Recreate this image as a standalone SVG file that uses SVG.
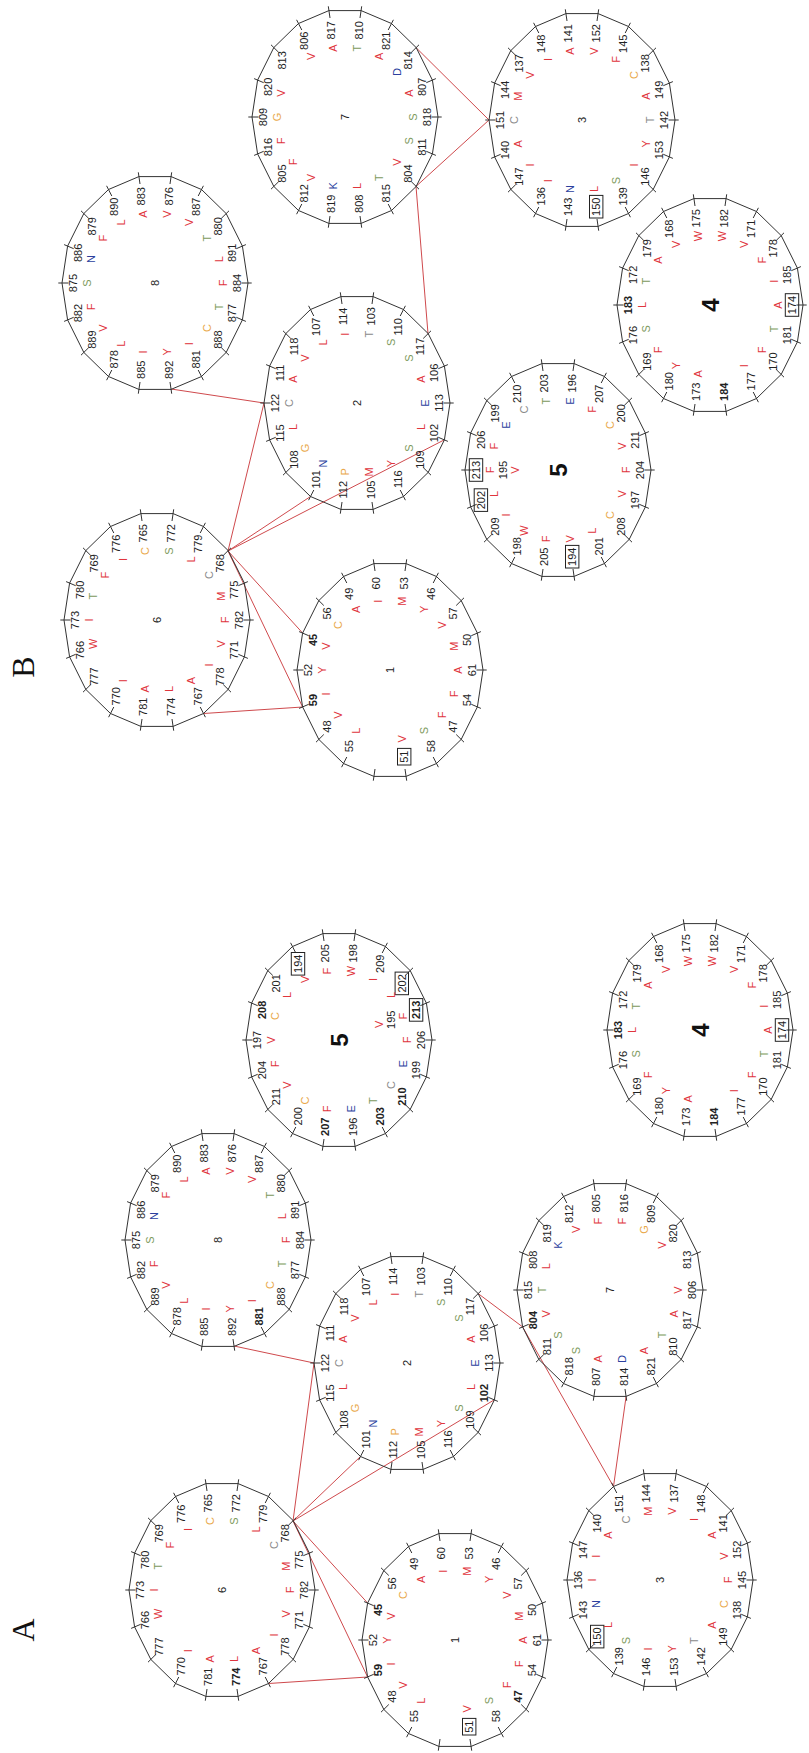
<svg xmlns="http://www.w3.org/2000/svg" width="809" height="1753" viewBox="0 0 809 1753">
<style>
text{font-family:"Liberation Sans",Arial,sans-serif;text-anchor:middle;dominant-baseline:central}
.n{font-size:11px;fill:#222}
.bd{font-weight:bold}
.L{font-size:11px}
.r{fill:#e0353d}.b{fill:#2b3f9e}.g{fill:#7d9a5c}.o{fill:#e9a84a}.y{fill:#8a8a8a}
.c{font-size:11px;fill:#222}
.big{font-size:24px;font-weight:bold;fill:#111}
.w{fill:none;stroke:#333;stroke-width:1}
.t{fill:none;stroke:#333;stroke-width:1}
.cn{stroke:#cf4a4d;stroke-width:1;fill:none}
.bx{fill:none;stroke:#222;stroke-width:1}
.pl{font-family:"Liberation Serif","Times New Roman",serif;font-size:32px;fill:#111}
</style>
<defs>
<g id="wh">
<polygon class="w" points="106.4,-16.1 93.5,-46.5 69.4,-71.2 36.9,-87.4 0,-93 -36.9,-87.4 -69.4,-71.2 -93.5,-46.5 -106.4,-16.1 -106.4,16.1 -93.5,46.5 -69.4,71.2 -36.9,87.4 0,93 36.9,87.4 69.4,71.2 93.5,46.5 106.4,16.1"/>
<path class="t" d="M99,-15L110.7,-16.7M87,-43.2L97.2,-48.4M64.5,-66.2L72.2,-74M34.3,-81.3L38.4,-90.9M0,-86.5L0,-96.7M-34.3,-81.3L-38.4,-90.9M-64.5,-66.2L-72.2,-74M-87,-43.2L-97.2,-48.4M-99,-15L-110.7,-16.7M-99,15L-110.7,16.7M-87,43.2L-97.2,48.4M-64.5,66.2L-72.2,74M-34.3,81.3L-38.4,90.9M0,86.5L0,96.7M34.3,81.3L38.4,90.9M64.5,66.2L72.2,74M87,43.2L97.2,48.4M99,15L110.7,16.7"/>
</g>
</defs>
<g id="connectors">
<path class="cn" d="M171,389L264,403M228,551L264,403M228,551L310.5,496.5M228,551L444,440M228,551L302.6,633M228,551L302.6,707M203.5,713.5L302.6,707M416,47.6L489,120M416,186.4L489,120M416,186.4L428,333.6"/>
<path class="cn" d="M234,1346L314,1363M293,1521L314,1363M293,1521L360.5,1456.5M293,1521L494,1400M293,1521L367.6,1603M293,1521L367.6,1677M268.5,1683.5L367.6,1677M626.1,1396.4L613.5,1486.5M522.6,1326.9L613.5,1486.5M522.6,1326.9L478.2,1293.6"/>
</g>
<g transform="translate(0,1753) rotate(-90)">
<text class="pl" x="123" y="23">A</text>
<text class="pl" x="1086" y="23">B</text>

<g id="B3" transform="translate(1633,582)"><use href="#wh"/><text class="c" x="0" y="0">3</text>
<text class="n" x="86.7" y="-14.2">141</text><text class="L r" x="68.9" y="-11.8">A</text>
<text class="n" x="76.2" y="-41">148</text><text class="L r" x="60.6" y="-34">I</text>
<text class="n" x="56.6" y="-62.8">137</text><text class="L r" x="45" y="-52.1">V</text>
<text class="n" x="30.1" y="-77.1">144</text><text class="L r" x="23.9" y="-63.9">M</text>
<text class="n" x="0" y="-82">151</text><text class="L y" x="0" y="-68">C</text>
<text class="n" x="-30.1" y="-77.1">140</text><text class="L r" x="-23.9" y="-63.9">A</text>
<text class="n" x="-56.6" y="-62.8">147</text><text class="L r" x="-45" y="-52.1">I</text>
<text class="n" x="-76.2" y="-41">136</text><text class="L r" x="-60.6" y="-34">I</text>
<text class="n" x="-86.7" y="-14.2">143</text><text class="L b" x="-68.9" y="-11.8">N</text>
<text class="n" x="-86.7" y="14.2">150</text><rect class="bx" x="-98" y="7.5" width="22.6" height="13.4"/><text class="L r" x="-68.9" y="11.8">L</text>
<text class="n" x="-76.2" y="41">139</text><text class="L g" x="-60.6" y="34">S</text>
<text class="n" x="-56.6" y="62.8">146</text><text class="L r" x="-45" y="52.1">I</text>
<text class="n" x="-30.1" y="77.1">153</text><text class="L r" x="-23.9" y="63.9">Y</text>
<text class="n" x="0" y="82">142</text><text class="L y" x="0" y="68">T</text>
<text class="n" x="30.1" y="77.1">149</text><text class="L r" x="23.9" y="63.9">A</text>
<text class="n" x="56.6" y="62.8">138</text><text class="L o" x="45" y="52.1">C</text>
<text class="n" x="76.2" y="41">145</text><text class="L r" x="60.6" y="34">F</text>
<text class="n" x="86.7" y="14.2">152</text><text class="L r" x="68.9" y="11.8">V</text>
</g>

<g id="B4" transform="translate(1448,710)"><use href="#wh"/><text class="big" x="0" y="0">4</text>
<text class="n" x="86.7" y="-14.2">175</text><text class="L r" x="68.9" y="-11.8">W</text>
<text class="n" x="76.2" y="-41">168</text><text class="L r" x="60.6" y="-34">V</text>
<text class="n" x="56.6" y="-62.8">179</text><text class="L r" x="45" y="-52.1">A</text>
<text class="n" x="30.1" y="-77.1">172</text><text class="L g" x="23.9" y="-63.9">T</text>
<text class="n bd" x="0" y="-82">183</text><text class="L r" x="0" y="-68">L</text>
<text class="n" x="-30.1" y="-77.1">176</text><text class="L g" x="-23.9" y="-63.9">S</text>
<text class="n" x="-56.6" y="-62.8">169</text><text class="L r" x="-45" y="-52.1">F</text>
<text class="n" x="-76.2" y="-41">180</text><text class="L r" x="-60.6" y="-34">Y</text>
<text class="n" x="-86.7" y="-14.2">173</text><text class="L r" x="-68.9" y="-11.8">A</text>
<text class="n bd" x="-86.7" y="14.2">184</text>
<text class="n" x="-76.2" y="41">177</text><text class="L r" x="-60.6" y="34">I</text>
<text class="n" x="-56.6" y="62.8">170</text><text class="L r" x="-45" y="52.1">F</text>
<text class="n" x="-30.1" y="77.1">181</text><text class="L g" x="-23.9" y="63.9">T</text>
<text class="n" x="0" y="82">174</text><rect class="bx" x="-11.3" y="75.3" width="22.6" height="13.4"/><text class="L r" x="0" y="68">A</text>
<text class="n" x="30.1" y="77.1">185</text><text class="L r" x="23.9" y="63.9">I</text>
<text class="n" x="56.6" y="62.8">178</text><text class="L r" x="45" y="52.1">F</text>
<text class="n" x="76.2" y="41">171</text><text class="L r" x="60.6" y="34">V</text>
<text class="n" x="86.7" y="14.2">182</text><text class="L r" x="68.9" y="11.8">W</text>
</g>

<g id="B5" transform="translate(1283,558)"><use href="#wh"/><text class="big" x="0" y="0">5</text>
<text class="n" x="86.7" y="-14.2">203</text><text class="L g" x="68.9" y="-11.8">T</text>
<text class="n" x="76.2" y="-41">210</text><text class="L y" x="60.6" y="-34">C</text>
<text class="n" x="56.6" y="-62.8">199</text><text class="L b" x="45" y="-52.1">E</text>
<text class="n" x="30.1" y="-77.1">206</text><text class="L r" x="23.9" y="-63.9">F</text>
<text class="n" x="0" y="-82">213</text><rect class="bx" x="-11.3" y="-88.7" width="22.6" height="13.4"/><text class="L r" x="0" y="-68">F</text>
<text class="n" x="0" y="-55">195</text><text class="L r" x="0" y="-42.6">V</text>
<text class="n" x="-30.1" y="-77.1">202</text><rect class="bx" x="-41.4" y="-83.8" width="22.6" height="13.4"/><text class="L r" x="-23.9" y="-63.9">L</text>
<text class="n" x="-56.6" y="-62.8">209</text><text class="L r" x="-45" y="-52.1">I</text>
<text class="n" x="-76.2" y="-41">198</text><text class="L r" x="-60.6" y="-34">W</text>
<text class="n" x="-86.7" y="-14.2">205</text><text class="L r" x="-68.9" y="-11.8">F</text>
<text class="n" x="-86.7" y="14.2">194</text><rect class="bx" x="-98" y="7.5" width="22.6" height="13.4"/><text class="L r" x="-68.9" y="11.8">V</text>
<text class="n" x="-76.2" y="41">201</text><text class="L r" x="-60.6" y="34">L</text>
<text class="n" x="-56.6" y="62.8">208</text><text class="L o" x="-45" y="52.1">C</text>
<text class="n" x="-30.1" y="77.1">197</text><text class="L r" x="-23.9" y="63.9">V</text>
<text class="n" x="0" y="82">204</text><text class="L r" x="0" y="68">F</text>
<text class="n" x="30.1" y="77.1">211</text><text class="L r" x="23.9" y="63.9">V</text>
<text class="n" x="56.6" y="62.8">200</text><text class="L o" x="45" y="52.1">C</text>
<text class="n" x="76.2" y="41">207</text><text class="L r" x="60.6" y="34">F</text>
<text class="n" x="86.7" y="14.2">196</text><text class="L b" x="68.9" y="11.8">E</text>
</g>

<g id="B2" transform="translate(1350,357)"><use href="#wh"/><text class="c" x="0" y="0">2</text>
<text class="n" x="86.7" y="-14.2">114</text><text class="L r" x="68.9" y="-11.8">I</text>
<text class="n" x="76.2" y="-41">107</text><text class="L r" x="60.6" y="-34">L</text>
<text class="n" x="56.6" y="-62.8">118</text><text class="L r" x="45" y="-52.1">V</text>
<text class="n" x="30.1" y="-77.1">111</text><text class="L r" x="23.9" y="-63.9">A</text>
<text class="n" x="0" y="-82">122</text><text class="L y" x="0" y="-68">C</text>
<text class="n" x="-30.1" y="-77.1">115</text><text class="L r" x="-23.9" y="-63.9">L</text>
<text class="n" x="-56.6" y="-62.8">108</text><text class="L o" x="-45" y="-52.1">G</text>
<text class="n" x="-76.2" y="-41">101</text><text class="L b" x="-60.6" y="-34">N</text>
<text class="n" x="-86.7" y="-14.2">112</text><text class="L o" x="-68.9" y="-11.8">P</text>
<text class="n" x="-86.7" y="14.2">105</text><text class="L r" x="-68.9" y="11.8">M</text>
<text class="n" x="-76.2" y="41">116</text><text class="L r" x="-60.6" y="34">Y</text>
<text class="n" x="-56.6" y="62.8">109</text><text class="L g" x="-45" y="52.1">S</text>
<text class="n" x="-30.1" y="77.1">102</text><text class="L r" x="-23.9" y="63.9">L</text>
<text class="n" x="0" y="82">113</text><text class="L b" x="0" y="68">E</text>
<text class="n" x="30.1" y="77.1">106</text><text class="L r" x="23.9" y="63.9">A</text>
<text class="n" x="56.6" y="62.8">117</text><text class="L g" x="45" y="52.1">S</text>
<text class="n" x="76.2" y="41">110</text><text class="L g" x="60.6" y="34">S</text>
<text class="n" x="86.7" y="14.2">103</text><text class="L y" x="68.9" y="11.8">T</text>
</g>

<g id="B1" transform="translate(1083,390)"><use href="#wh"/><text class="c" x="0" y="0">1</text>
<text class="n" x="86.7" y="-14.2">60</text><text class="L r" x="68.9" y="-11.8">I</text>
<text class="n" x="76.2" y="-41">49</text><text class="L r" x="60.6" y="-34">A</text>
<text class="n" x="56.6" y="-62.8">56</text><text class="L o" x="45" y="-52.1">C</text>
<text class="n bd" x="30.1" y="-77.1">45</text><text class="L r" x="23.9" y="-63.9">V</text>
<text class="n" x="0" y="-82">52</text><text class="L r" x="0" y="-68">Y</text>
<text class="n bd" x="-30.1" y="-77.1">59</text><text class="L r" x="-23.9" y="-63.9">I</text>
<text class="n" x="-56.6" y="-62.8">48</text><text class="L r" x="-45" y="-52.1">V</text>
<text class="n" x="-76.2" y="-41">55</text><text class="L r" x="-60.6" y="-34">L</text>
<text class="n" x="-86.7" y="14.2">51</text><rect class="bx" x="-95" y="7.5" width="16.6" height="13.4"/><text class="L r" x="-68.9" y="11.8">V</text>
<text class="n" x="-76.2" y="41">58</text><text class="L g" x="-60.6" y="34">S</text>
<text class="n" x="-56.6" y="62.8">47</text><text class="L r" x="-45" y="52.1">F</text>
<text class="n" x="-30.1" y="77.1">54</text><text class="L r" x="-23.9" y="63.9">F</text>
<text class="n" x="0" y="82">61</text><text class="L r" x="0" y="68">A</text>
<text class="n" x="30.1" y="77.1">50</text><text class="L r" x="23.9" y="63.9">M</text>
<text class="n" x="56.6" y="62.8">57</text><text class="L r" x="45" y="52.1">V</text>
<text class="n" x="76.2" y="41">46</text><text class="L r" x="60.6" y="34">Y</text>
<text class="n" x="86.7" y="14.2">53</text><text class="L r" x="68.9" y="11.8">M</text>
</g>

<g id="B6" transform="translate(1133,157)"><use href="#wh"/><text class="c" x="0" y="0">6</text>
<text class="n" x="86.7" y="-14.2">765</text><text class="L o" x="68.9" y="-11.8">C</text>
<text class="n" x="76.2" y="-41">776</text><text class="L r" x="60.6" y="-34">I</text>
<text class="n" x="56.6" y="-62.8">769</text><text class="L r" x="45" y="-52.1">F</text>
<text class="n" x="30.1" y="-77.1">780</text><text class="L g" x="23.9" y="-63.9">T</text>
<text class="n" x="0" y="-82">773</text><text class="L r" x="0" y="-68">I</text>
<text class="n" x="-30.1" y="-77.1">766</text><text class="L r" x="-23.9" y="-63.9">W</text>
<text class="n" x="-56.6" y="-62.8">777</text>
<text class="n" x="-76.2" y="-41">770</text><text class="L r" x="-60.6" y="-34">I</text>
<text class="n" x="-86.7" y="-14.2">781</text><text class="L r" x="-68.9" y="-11.8">A</text>
<text class="n" x="-86.7" y="14.2">774</text><text class="L r" x="-68.9" y="11.8">L</text>
<text class="n" x="-76.2" y="41">767</text><text class="L r" x="-60.6" y="34">A</text>
<text class="n" x="-56.6" y="62.8">778</text><text class="L r" x="-45" y="52.1">I</text>
<text class="n" x="-30.1" y="77.1">771</text><text class="L r" x="-23.9" y="63.9">V</text>
<text class="n" x="0" y="82">782</text><text class="L r" x="0" y="68">F</text>
<text class="n" x="30.1" y="77.1">775</text><text class="L r" x="23.9" y="63.9">M</text>
<text class="n" x="56.6" y="62.8">768</text><text class="L y" x="45" y="52.1">C</text>
<text class="n" x="76.2" y="41">779</text><text class="L r" x="60.6" y="34">L</text>
<text class="n" x="86.7" y="14.2">772</text><text class="L g" x="68.9" y="11.8">S</text>
</g>

<g id="B7" transform="translate(1636,345)"><use href="#wh"/><text class="c" x="0" y="0">7</text>
<text class="n" x="86.7" y="-14.2">817</text><text class="L r" x="68.9" y="-11.8">A</text>
<text class="n" x="76.2" y="-41">806</text><text class="L r" x="60.6" y="-34">V</text>
<text class="n" x="56.6" y="-62.8">813</text>
<text class="n" x="30.1" y="-77.1">820</text><text class="L r" x="23.9" y="-63.9">V</text>
<text class="n" x="0" y="-82">809</text><text class="L o" x="0" y="-68">G</text>
<text class="n" x="-30.1" y="-77.1">816</text><text class="L r" x="-23.9" y="-63.9">F</text>
<text class="n" x="-56.6" y="-62.8">805</text><text class="L r" x="-45" y="-52.1">F</text>
<text class="n" x="-76.2" y="-41">812</text><text class="L r" x="-60.6" y="-34">V</text>
<text class="n" x="-86.7" y="-14.2">819</text><text class="L b" x="-68.9" y="-11.8">K</text>
<text class="n" x="-86.7" y="14.2">808</text><text class="L r" x="-68.9" y="11.8">L</text>
<text class="n" x="-76.2" y="41">815</text><text class="L g" x="-60.6" y="34">T</text>
<text class="n" x="-56.6" y="62.8">804</text><text class="L r" x="-45" y="52.1">V</text>
<text class="n" x="-30.1" y="77.1">811</text><text class="L g" x="-23.9" y="63.9">S</text>
<text class="n" x="0" y="82">818</text><text class="L g" x="0" y="68">S</text>
<text class="n" x="30.1" y="77.1">807</text><text class="L r" x="23.9" y="63.9">A</text>
<text class="n" x="56.6" y="62.8">814</text><text class="L b" x="45" y="52.1">D</text>
<text class="n" x="76.2" y="41">821</text><text class="L r" x="60.6" y="34">A</text>
<text class="n" x="86.7" y="14.2">810</text><text class="L g" x="68.9" y="11.8">T</text>
</g>

<g id="B8" transform="translate(1470,155)"><use href="#wh"/><text class="c" x="0" y="0">8</text>
<text class="n" x="86.7" y="-14.2">883</text><text class="L r" x="68.9" y="-11.8">A</text>
<text class="n" x="76.2" y="-41">890</text><text class="L r" x="60.6" y="-34">L</text>
<text class="n" x="56.6" y="-62.8">879</text><text class="L r" x="45" y="-52.1">F</text>
<text class="n" x="30.1" y="-77.1">886</text><text class="L b" x="23.9" y="-63.9">N</text>
<text class="n" x="0" y="-82">875</text><text class="L g" x="0" y="-68">S</text>
<text class="n" x="-30.1" y="-77.1">882</text><text class="L r" x="-23.9" y="-63.9">F</text>
<text class="n" x="-56.6" y="-62.8">889</text><text class="L r" x="-45" y="-52.1">V</text>
<text class="n" x="-76.2" y="-41">878</text><text class="L r" x="-60.6" y="-34">L</text>
<text class="n" x="-86.7" y="-14.2">885</text><text class="L r" x="-68.9" y="-11.8">I</text>
<text class="n" x="-86.7" y="14.2">892</text><text class="L r" x="-68.9" y="11.8">Y</text>
<text class="n" x="-76.2" y="41">881</text><text class="L r" x="-60.6" y="34">I</text>
<text class="n" x="-56.6" y="62.8">888</text><text class="L o" x="-45" y="52.1">C</text>
<text class="n" x="-30.1" y="77.1">877</text><text class="L g" x="-23.9" y="63.9">T</text>
<text class="n" x="0" y="82">884</text><text class="L r" x="0" y="68">F</text>
<text class="n" x="30.1" y="77.1">891</text><text class="L r" x="23.9" y="63.9">L</text>
<text class="n" x="56.6" y="62.8">880</text><text class="L g" x="45" y="52.1">T</text>
<text class="n" x="76.2" y="41">887</text><text class="L r" x="60.6" y="34">V</text>
<text class="n" x="86.7" y="14.2">876</text><text class="L r" x="68.9" y="11.8">V</text>
</g>

<g id="A6" transform="translate(163,222)"><use href="#wh"/><text class="c" x="0" y="0">6</text>
<text class="n" x="86.7" y="-14.2">765</text><text class="L o" x="68.9" y="-11.8">C</text>
<text class="n" x="76.2" y="-41">776</text><text class="L r" x="60.6" y="-34">I</text>
<text class="n" x="56.6" y="-62.8">769</text><text class="L r" x="45" y="-52.1">F</text>
<text class="n" x="30.1" y="-77.1">780</text><text class="L g" x="23.9" y="-63.9">T</text>
<text class="n" x="0" y="-82">773</text><text class="L r" x="0" y="-68">I</text>
<text class="n" x="-30.1" y="-77.1">766</text><text class="L r" x="-23.9" y="-63.9">W</text>
<text class="n" x="-56.6" y="-62.8">777</text>
<text class="n" x="-76.2" y="-41">770</text><text class="L r" x="-60.6" y="-34">I</text>
<text class="n" x="-86.7" y="-14.2">781</text><text class="L r" x="-68.9" y="-11.8">A</text>
<text class="n bd" x="-86.7" y="14.2">774</text><text class="L r" x="-68.9" y="11.8">L</text>
<text class="n" x="-76.2" y="41">767</text><text class="L r" x="-60.6" y="34">A</text>
<text class="n" x="-56.6" y="62.8">778</text><text class="L r" x="-45" y="52.1">I</text>
<text class="n" x="-30.1" y="77.1">771</text><text class="L r" x="-23.9" y="63.9">V</text>
<text class="n" x="0" y="82">782</text><text class="L r" x="0" y="68">F</text>
<text class="n" x="30.1" y="77.1">775</text><text class="L r" x="23.9" y="63.9">M</text>
<text class="n" x="56.6" y="62.8">768</text><text class="L y" x="45" y="52.1">C</text>
<text class="n" x="76.2" y="41">779</text><text class="L r" x="60.6" y="34">L</text>
<text class="n" x="86.7" y="14.2">772</text><text class="L g" x="68.9" y="11.8">S</text>
</g>

<g id="A8" transform="translate(513,218)"><use href="#wh"/><text class="c" x="0" y="0">8</text>
<text class="n" x="86.7" y="-14.2">883</text><text class="L r" x="68.9" y="-11.8">A</text>
<text class="n" x="76.2" y="-41">890</text><text class="L r" x="60.6" y="-34">L</text>
<text class="n" x="56.6" y="-62.8">879</text><text class="L r" x="45" y="-52.1">F</text>
<text class="n" x="30.1" y="-77.1">886</text><text class="L b" x="23.9" y="-63.9">N</text>
<text class="n" x="0" y="-82">875</text><text class="L g" x="0" y="-68">S</text>
<text class="n" x="-30.1" y="-77.1">882</text><text class="L r" x="-23.9" y="-63.9">F</text>
<text class="n" x="-56.6" y="-62.8">889</text><text class="L r" x="-45" y="-52.1">V</text>
<text class="n" x="-76.2" y="-41">878</text><text class="L r" x="-60.6" y="-34">L</text>
<text class="n" x="-86.7" y="-14.2">885</text><text class="L r" x="-68.9" y="-11.8">I</text>
<text class="n" x="-86.7" y="14.2">892</text><text class="L r" x="-68.9" y="11.8">Y</text>
<text class="n bd" x="-76.2" y="41">881</text><text class="L r" x="-60.6" y="34">I</text>
<text class="n" x="-56.6" y="62.8">888</text><text class="L o" x="-45" y="52.1">C</text>
<text class="n" x="-30.1" y="77.1">877</text><text class="L g" x="-23.9" y="63.9">T</text>
<text class="n" x="0" y="82">884</text><text class="L r" x="0" y="68">F</text>
<text class="n" x="30.1" y="77.1">891</text><text class="L r" x="23.9" y="63.9">L</text>
<text class="n" x="56.6" y="62.8">880</text><text class="L g" x="45" y="52.1">T</text>
<text class="n" x="76.2" y="41">887</text><text class="L r" x="60.6" y="34">V</text>
<text class="n" x="86.7" y="14.2">876</text><text class="L r" x="68.9" y="11.8">V</text>
</g>

<g id="A2" transform="translate(390,407)"><use href="#wh"/><text class="c" x="0" y="0">2</text>
<text class="n" x="86.7" y="-14.2">114</text><text class="L r" x="68.9" y="-11.8">I</text>
<text class="n" x="76.2" y="-41">107</text><text class="L r" x="60.6" y="-34">L</text>
<text class="n" x="56.6" y="-62.8">118</text><text class="L r" x="45" y="-52.1">V</text>
<text class="n" x="30.1" y="-77.1">111</text><text class="L r" x="23.9" y="-63.9">A</text>
<text class="n" x="0" y="-82">122</text><text class="L y" x="0" y="-68">C</text>
<text class="n" x="-30.1" y="-77.1">115</text><text class="L r" x="-23.9" y="-63.9">L</text>
<text class="n" x="-56.6" y="-62.8">108</text><text class="L o" x="-45" y="-52.1">G</text>
<text class="n" x="-76.2" y="-41">101</text><text class="L b" x="-60.6" y="-34">N</text>
<text class="n" x="-86.7" y="-14.2">112</text><text class="L o" x="-68.9" y="-11.8">P</text>
<text class="n" x="-86.7" y="14.2">105</text><text class="L r" x="-68.9" y="11.8">M</text>
<text class="n" x="-76.2" y="41">116</text><text class="L r" x="-60.6" y="34">Y</text>
<text class="n" x="-56.6" y="62.8">109</text><text class="L g" x="-45" y="52.1">S</text>
<text class="n bd" x="-30.1" y="77.1">102</text><text class="L r" x="-23.9" y="63.9">L</text>
<text class="n" x="0" y="82">113</text><text class="L b" x="0" y="68">E</text>
<text class="n" x="30.1" y="77.1">106</text><text class="L r" x="23.9" y="63.9">A</text>
<text class="n" x="56.6" y="62.8">117</text><text class="L g" x="45" y="52.1">S</text>
<text class="n" x="76.2" y="41">110</text><text class="L g" x="60.6" y="34">S</text>
<text class="n" x="86.7" y="14.2">103</text><text class="L y" x="68.9" y="11.8">T</text>
</g>

<g id="A5" transform="translate(713,339)"><use href="#wh"/><text class="big" x="0" y="0">5</text>
<text class="n" x="86.7" y="-14.2">205</text><text class="L r" x="68.9" y="-11.8">F</text>
<text class="n" x="76.2" y="-41">194</text><rect class="bx" x="64.9" y="-47.7" width="22.6" height="13.4"/><text class="L r" x="60.6" y="-34">V</text>
<text class="n" x="56.6" y="-62.8">201</text><text class="L r" x="45" y="-52.1">L</text>
<text class="n bd" x="30.1" y="-77.1">208</text><text class="L o" x="23.9" y="-63.9">C</text>
<text class="n" x="0" y="-82">197</text><text class="L r" x="0" y="-68">V</text>
<text class="n" x="-30.1" y="-77.1">204</text><text class="L r" x="-23.9" y="-63.9">F</text>
<text class="n" x="-56.6" y="-62.8">211</text><text class="L r" x="-45" y="-52.1">V</text>
<text class="n" x="-76.2" y="-41">200</text><text class="L o" x="-60.6" y="-34">C</text>
<text class="n bd" x="-86.7" y="-14.2">207</text><text class="L r" x="-68.9" y="-11.8">F</text>
<text class="n" x="-86.7" y="14.2">196</text><text class="L b" x="-68.9" y="11.8">E</text>
<text class="n bd" x="-76.2" y="41">203</text><text class="L g" x="-60.6" y="34">T</text>
<text class="n bd" x="-56.6" y="62.8">210</text><text class="L y" x="-45" y="52.1">C</text>
<text class="n" x="-30.1" y="77.1">199</text><text class="L b" x="-23.9" y="63.9">E</text>
<text class="n" x="0" y="82">206</text><text class="L r" x="0" y="68">F</text>
<text class="n bd" x="30.1" y="77.1">213</text><rect class="bx" x="18.8" y="70.4" width="22.6" height="13.4"/><text class="L r" x="23.9" y="63.9">F</text>
<text class="n" x="20.2" y="51.7">195</text><text class="L r" x="15.7" y="40">V</text>
<text class="n" x="56.6" y="62.8">202</text><rect class="bx" x="45.3" y="56.1" width="22.6" height="13.4"/><text class="L r" x="45" y="52.1">L</text>
<text class="n" x="76.2" y="41">209</text><text class="L r" x="60.6" y="34">I</text>
<text class="n" x="86.7" y="14.2">198</text><text class="L r" x="68.9" y="11.8">W</text>
</g>

<g id="A1" transform="translate(113,455)"><use href="#wh"/><text class="c" x="0" y="0">1</text>
<text class="n" x="86.7" y="-14.2">60</text><text class="L r" x="68.9" y="-11.8">I</text>
<text class="n" x="76.2" y="-41">49</text><text class="L r" x="60.6" y="-34">A</text>
<text class="n" x="56.6" y="-62.8">56</text><text class="L o" x="45" y="-52.1">C</text>
<text class="n bd" x="30.1" y="-77.1">45</text><text class="L r" x="23.9" y="-63.9">V</text>
<text class="n" x="0" y="-82">52</text><text class="L r" x="0" y="-68">Y</text>
<text class="n bd" x="-30.1" y="-77.1">59</text><text class="L r" x="-23.9" y="-63.9">I</text>
<text class="n" x="-56.6" y="-62.8">48</text><text class="L r" x="-45" y="-52.1">V</text>
<text class="n" x="-76.2" y="-41">55</text><text class="L r" x="-60.6" y="-34">L</text>
<text class="n" x="-86.7" y="14.2">51</text><rect class="bx" x="-95" y="7.5" width="16.6" height="13.4"/><text class="L r" x="-68.9" y="11.8">V</text>
<text class="n" x="-76.2" y="41">58</text><text class="L g" x="-60.6" y="34">S</text>
<text class="n bd" x="-56.6" y="62.8">47</text><text class="L r" x="-45" y="52.1">F</text>
<text class="n" x="-30.1" y="77.1">54</text><text class="L r" x="-23.9" y="63.9">F</text>
<text class="n" x="0" y="82">61</text><text class="L r" x="0" y="68">A</text>
<text class="n" x="30.1" y="77.1">50</text><text class="L r" x="23.9" y="63.9">M</text>
<text class="n" x="56.6" y="62.8">57</text><text class="L r" x="45" y="52.1">V</text>
<text class="n" x="76.2" y="41">46</text><text class="L r" x="60.6" y="34">Y</text>
<text class="n" x="86.7" y="14.2">53</text><text class="L r" x="68.9" y="11.8">M</text>
</g>

<g id="A4" transform="translate(723,700)"><use href="#wh"/><text class="big" x="0" y="0">4</text>
<text class="n" x="86.7" y="-14.2">175</text><text class="L r" x="68.9" y="-11.8">W</text>
<text class="n" x="76.2" y="-41">168</text><text class="L r" x="60.6" y="-34">V</text>
<text class="n" x="56.6" y="-62.8">179</text><text class="L r" x="45" y="-52.1">A</text>
<text class="n" x="30.1" y="-77.1">172</text><text class="L g" x="23.9" y="-63.9">T</text>
<text class="n bd" x="0" y="-82">183</text><text class="L r" x="0" y="-68">L</text>
<text class="n" x="-30.1" y="-77.1">176</text><text class="L g" x="-23.9" y="-63.9">S</text>
<text class="n" x="-56.6" y="-62.8">169</text><text class="L r" x="-45" y="-52.1">F</text>
<text class="n" x="-76.2" y="-41">180</text><text class="L r" x="-60.6" y="-34">Y</text>
<text class="n" x="-86.7" y="-14.2">173</text><text class="L r" x="-68.9" y="-11.8">A</text>
<text class="n bd" x="-86.7" y="14.2">184</text>
<text class="n" x="-76.2" y="41">177</text><text class="L r" x="-60.6" y="34">I</text>
<text class="n" x="-56.6" y="62.8">170</text><text class="L r" x="-45" y="52.1">F</text>
<text class="n" x="-30.1" y="77.1">181</text><text class="L g" x="-23.9" y="63.9">T</text>
<text class="n" x="0" y="82">174</text><rect class="bx" x="-11.3" y="75.3" width="22.6" height="13.4"/><text class="L r" x="0" y="68">A</text>
<text class="n" x="30.1" y="77.1">185</text><text class="L r" x="23.9" y="63.9">I</text>
<text class="n" x="56.6" y="62.8">178</text><text class="L r" x="45" y="52.1">F</text>
<text class="n" x="76.2" y="41">171</text><text class="L r" x="60.6" y="34">V</text>
<text class="n" x="86.7" y="14.2">182</text><text class="L r" x="68.9" y="11.8">W</text>
</g>

<g id="A7" transform="translate(463,610)"><use href="#wh"/><text class="c" x="0" y="0">7</text>
<text class="n" x="86.7" y="-14.2">805</text><text class="L r" x="68.9" y="-11.8">F</text>
<text class="n" x="76.2" y="-41">812</text><text class="L r" x="60.6" y="-34">V</text>
<text class="n" x="56.6" y="-62.8">819</text><text class="L b" x="45" y="-52.1">K</text>
<text class="n" x="30.1" y="-77.1">808</text><text class="L r" x="23.9" y="-63.9">L</text>
<text class="n" x="0" y="-82">815</text><text class="L g" x="0" y="-68">T</text>
<text class="n bd" x="-30.1" y="-77.1">804</text><text class="L r" x="-23.9" y="-63.9">V</text>
<text class="n" x="-56.6" y="-62.8">811</text><text class="L g" x="-45" y="-52.1">S</text>
<text class="n" x="-76.2" y="-41">818</text><text class="L g" x="-60.6" y="-34">S</text>
<text class="n" x="-86.7" y="-14.2">807</text><text class="L r" x="-68.9" y="-11.8">A</text>
<text class="n" x="-86.7" y="14.2">814</text><text class="L b" x="-68.9" y="11.8">D</text>
<text class="n" x="-76.2" y="41">821</text><text class="L r" x="-60.6" y="34">A</text>
<text class="n" x="-56.6" y="62.8">810</text><text class="L g" x="-45" y="52.1">T</text>
<text class="n" x="-30.1" y="77.1">817</text><text class="L r" x="-23.9" y="63.9">A</text>
<text class="n" x="0" y="82">806</text><text class="L r" x="0" y="68">V</text>
<text class="n" x="30.1" y="77.1">813</text>
<text class="n" x="56.6" y="62.8">820</text><text class="L r" x="45" y="52.1">V</text>
<text class="n" x="76.2" y="41">809</text><text class="L o" x="60.6" y="34">G</text>
<text class="n" x="86.7" y="14.2">816</text><text class="L r" x="68.9" y="11.8">F</text>
</g>

<g id="A3" transform="translate(173,660)"><use href="#wh"/><text class="c" x="0" y="0">3</text>
<text class="n" x="86.7" y="-14.2">144</text><text class="L r" x="68.9" y="-11.8">M</text>
<text class="n" x="76.2" y="-41">151</text><text class="L y" x="60.6" y="-34">C</text>
<text class="n" x="56.6" y="-62.8">140</text><text class="L r" x="45" y="-52.1">A</text>
<text class="n" x="30.1" y="-77.1">147</text><text class="L r" x="23.9" y="-63.9">I</text>
<text class="n" x="0" y="-82">136</text><text class="L r" x="0" y="-68">I</text>
<text class="n" x="-30.1" y="-77.1">143</text><text class="L b" x="-23.9" y="-63.9">N</text>
<text class="n" x="-56.6" y="-62.8">150</text><rect class="bx" x="-67.9" y="-69.5" width="22.6" height="13.4"/><text class="L r" x="-45" y="-52.1">L</text>
<text class="n" x="-76.2" y="-41">139</text><text class="L g" x="-60.6" y="-34">S</text>
<text class="n" x="-86.7" y="-14.2">146</text><text class="L r" x="-68.9" y="-11.8">I</text>
<text class="n" x="-86.7" y="14.2">153</text><text class="L r" x="-68.9" y="11.8">Y</text>
<text class="n" x="-76.2" y="41">142</text><text class="L y" x="-60.6" y="34">T</text>
<text class="n" x="-56.6" y="62.8">149</text><text class="L r" x="-45" y="52.1">A</text>
<text class="n" x="-30.1" y="77.1">138</text><text class="L o" x="-23.9" y="63.9">C</text>
<text class="n" x="0" y="82">145</text><text class="L r" x="0" y="68">F</text>
<text class="n" x="30.1" y="77.1">152</text><text class="L r" x="23.9" y="63.9">V</text>
<text class="n" x="56.6" y="62.8">141</text><text class="L r" x="45" y="52.1">A</text>
<text class="n" x="76.2" y="41">148</text><text class="L r" x="60.6" y="34">I</text>
<text class="n" x="86.7" y="14.2">137</text><text class="L r" x="68.9" y="11.8">V</text>
</g>
</g>
</svg>
